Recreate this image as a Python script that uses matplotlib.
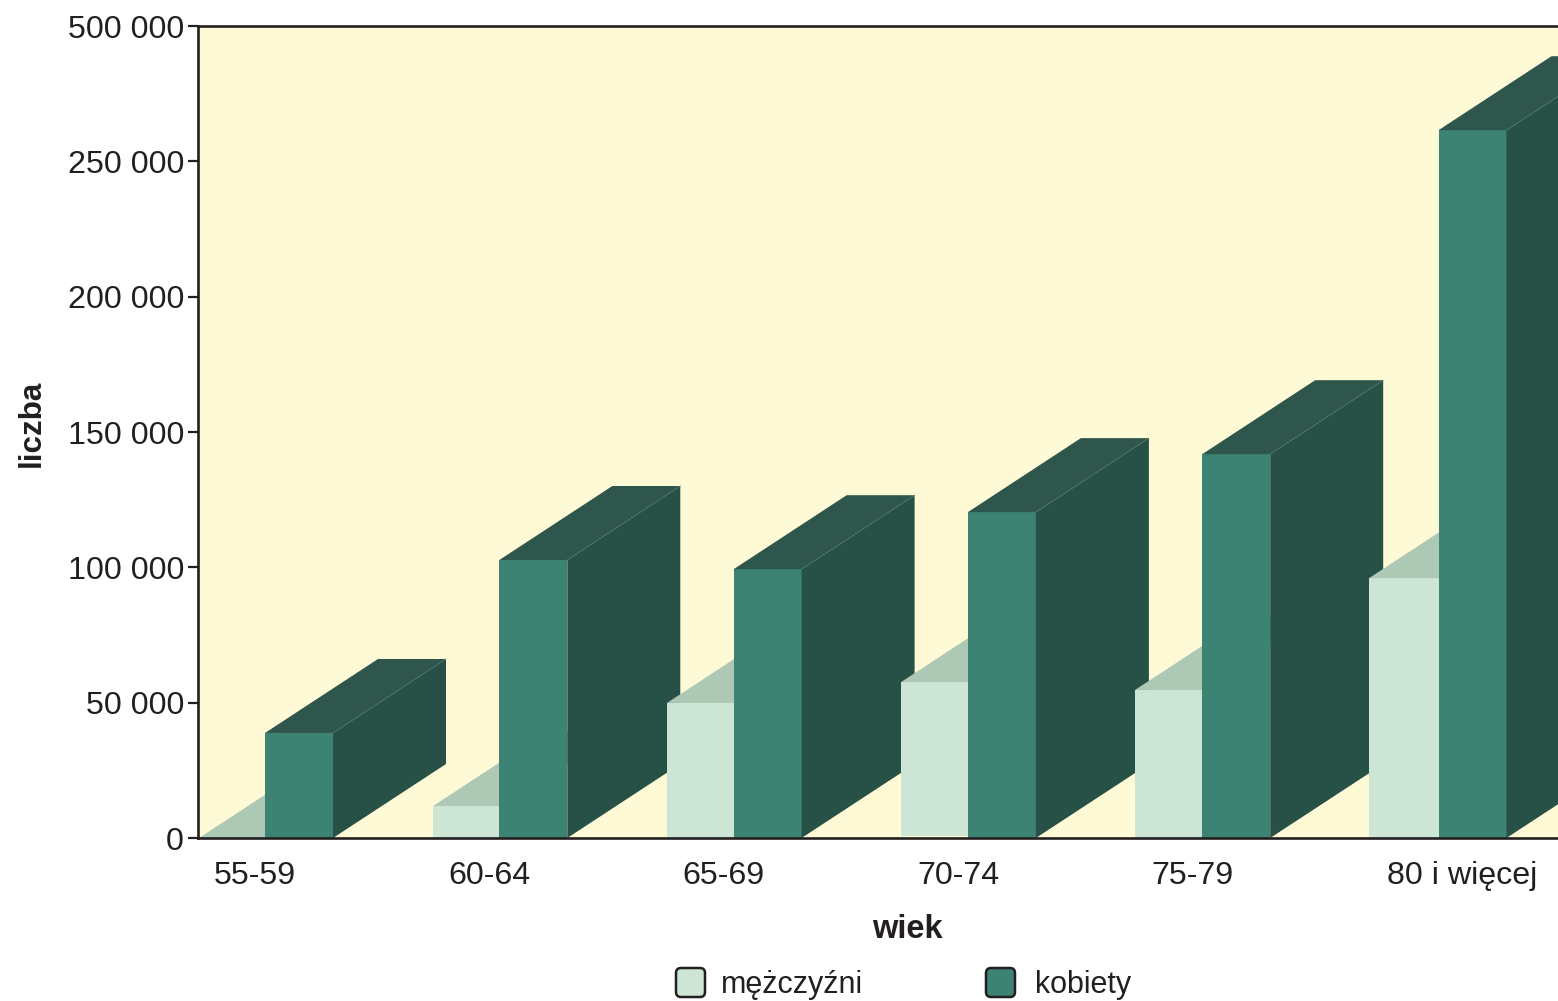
import matplotlib
matplotlib.use("Agg")
import matplotlib.pyplot as plt
from matplotlib.patches import FancyBboxPatch
from matplotlib.transforms import IdentityTransform

plt.rcParams['font.family'] = ['Liberation Sans', 'DejaVu Sans']

categories = ['55-59', '60-64', '65-69', '70-74', '75-79', '80 i więcej']
mezczyzni = [0, 11800, 49900, 57600, 54700, 96000]
mezczyzni_base = [0, 0, 0, 800, 0, 0]
kobiety = [38800, 102700, 99300, 120400, 141800, 261500]
y_ticks = [0, 50000, 100000, 150000, 200000, 250000, 300000]
y_labels = ['0', '50 000', '100 000', '150 000', '200 000', '250 000', '500 000']

W, H = 1558, 1001
L, R, T, B = 198, 1558, 26, 838
SLOT = 234.3
INK = '#231f20'
BG = '#fffad6'
M_FRONT, M_TOP = '#cce5d5', '#adc9b5'
K_FRONT, K_TOP, K_SIDE = '#3c8373', '#2e564d', '#275046'

fig = plt.figure(figsize=(W / 100, H / 100), dpi=100)
ax = fig.add_axes([L / W, 1 - B / H, (R - L) / W, (B - T) / H])
ax.set_facecolor(BG)
ax.set_xlim(0, (R - L) / SLOT)
ax.set_ylim(0, 300000)

# bar geometry in axis units (depth follows the oblique projection of the source)
w_m, w_k = 70 / SLOT, 68 / SLOT
dx, dy = 113 / SLOT, 27340

def box(x, w, y0, y1, front, top, side=None, z=2):
    ax.fill([x, x + w, x + w, x], [y0, y0, y1, y1], color=front, lw=0, zorder=z)
    ax.fill([x, x + w, x + w + dx, x + dx], [y1, y1, y1 + dy, y1 + dy], color=top, lw=0, zorder=z)
    if side:
        ax.fill([x + w, x + w + dx, x + w + dx, x + w],
                [y0, y0 + dy, y1 + dy, y1], color=side, lw=0, zorder=z)
        ax.plot([x + w, x + w + dx], [y1, y1 + dy], color='#4f7569', lw=0.5, zorder=z)

for i in range(len(categories)):
    x_m = (1 + 234 * i) / SLOT
    x_k = i + 67 / SLOT + (2 / SLOT if i == 5 else 0)
    box(x_m, w_m, mezczyzni_base[i], mezczyzni[i], M_FRONT, M_TOP, z=2 + i * 2)
    box(x_k, w_k, 0, kobiety[i], K_FRONT, K_TOP, K_SIDE, z=3 + i * 2)

for s in ('left', 'top', 'bottom'):
    ax.spines[s].set_linewidth(1.9)
    ax.spines[s].set_color(INK)
    ax.spines[s].set_zorder(50)
ax.spines['right'].set_visible(False)

ax.set_yticks(y_ticks, y_labels, fontsize=23.2, color=INK)
ax.tick_params(axis='y', length=7.5, width=1.6, color=INK, pad=2.5)
ax.set_xticks([i + (16 + (1 if i == 5 else 0)) / SLOT for i in range(len(categories))], categories,
              fontsize=23.2, color=INK, ha='left')
ax.tick_params(axis='x', length=0, pad=16.5)

fig.text(32 / W, 1 - 423 / H, 'liczba', rotation=90, fontsize=22.6, fontweight='bold',
         color=INK, ha='center', va='center')
fig.text(907 / W, 1 - 929 / H, 'wiek', fontsize=23.5, fontweight='bold',
         color=INK, ha='center', va='center')

for x0, col, label, tx in [(676, M_FRONT, 'mężczyźni', 721), (986, K_FRONT, 'kobiety', 1035)]:
    fig.add_artist(FancyBboxPatch((x0 + 5, H - 997 + 5), 19, 19,
                                  boxstyle='round,pad=5,rounding_size=5', fc=col, ec=INK,
                                  lw=1.8, transform=IdentityTransform()))
    fig.text(tx / W, 1 - 985 / H, label, fontsize=22, color=INK, ha='left', va='center')

fig.savefig('out.png', dpi=100)
